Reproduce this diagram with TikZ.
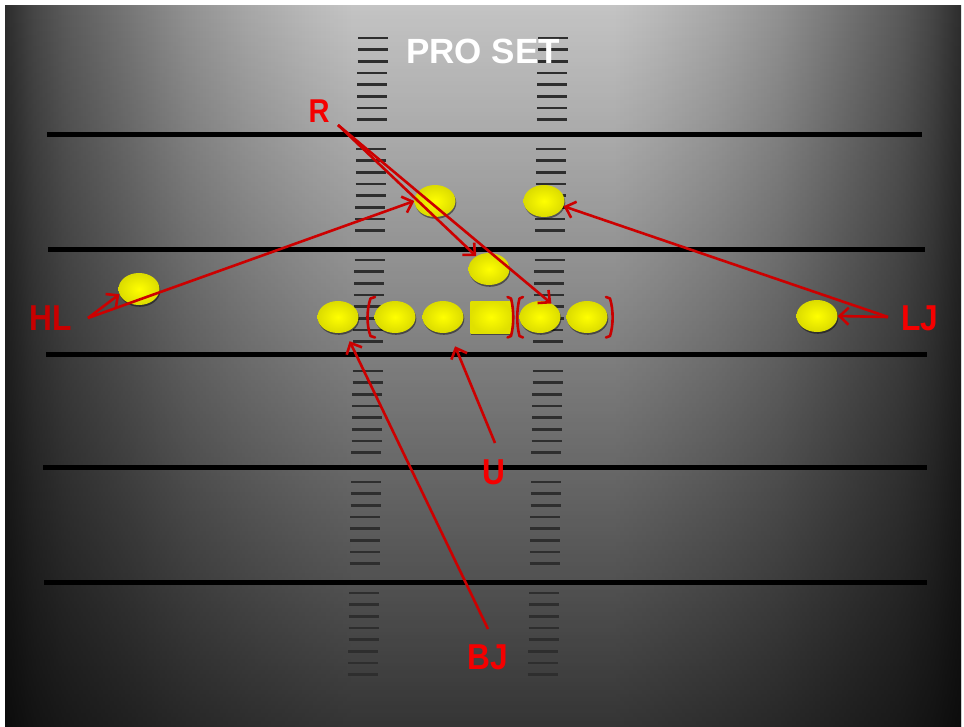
\documentclass[tikz,border=0pt]{standalone}
\usepackage{fontspec}
\setmainfont{Liberation Sans}
\newfontfamily\lblfont[FakeStretch=0.88]{Liberation Sans}
\usetikzlibrary{arrows.meta,shapes.geometric,shadows}

\definecolor{gE}{RGB}{45,45,45}
\definecolor{gF}{RGB}{70,70,70}
\definecolor{gG}{RGB}{90,90,90}
\definecolor{gH}{RGB}{118,118,118}
\definecolor{gI}{RGB}{146,146,146}
\definecolor{gJ}{RGB}{168,168,168}
\definecolor{gK}{RGB}{186,186,186}
\definecolor{gL}{RGB}{196,196,196}
\definecolor{vbottom}{RGB}{69,69,69}
\definecolor{arrowred}{HTML}{CC0000}
\definecolor{labelred}{HTML}{F50000}
\definecolor{hlred}{HTML}{C80000}
\definecolor{hashgray}{HTML}{2E2E2E}
\definecolor{pyellow}{HTML}{FFFF00}

% the path's width corresponds to 25bp..75bp of the shading
\pgfdeclarehorizontalshading{fieldh}{100bp}{%
color(0bp)=(gE); color(25bp)=(gE); color(26.46bp)=(gF); color(28.09bp)=(gG);
color(31.33bp)=(gH); color(34.52bp)=(gI); color(37.76bp)=(gJ); color(40.95bp)=(gK);
color(43.2bp)=(gL); color(56.8bp)=(gL); color(59.05bp)=(gK); color(62.24bp)=(gJ);
color(65.48bp)=(gI); color(68.67bp)=(gH); color(71.91bp)=(gG); color(73.54bp)=(gF);
color(75bp)=(gE); color(100bp)=(gE)}

\begin{document}
\begin{tikzpicture}[x=1pt,y=-1pt,
  yardline/.style={line width=5pt, black},
  hashmark/.style={line width=2.6pt, hashgray},
  player/.style={ellipse, minimum width=41pt, minimum height=32pt, inner sep=0pt,
    inner color=pyellow, outer color=pyellow!86!black,
    drop shadow={shadow xshift=0.8pt, shadow yshift=-1.8pt, opacity=0.45, fill=black}},
  ctrbox/.style={rectangle, minimum width=41pt, minimum height=32pt, inner sep=0pt,
    inner color=pyellow, outer color=pyellow!88!black,
    drop shadow={shadow xshift=0.8pt, shadow yshift=-1.8pt, opacity=0.45, fill=black}},
  brk/.style={line width=2.6pt, hlred, line cap=round, line join=round},
  arr/.style={line width=2.6pt, arrowred, -{Straight Barb[length=9pt,width=17pt]}},
  lbl/.style={inner sep=0pt, text=labelred, font=\lblfont\fontsize{36}{40}\selectfont\bfseries},
  titletext/.style={inner sep=0pt, text=white, font=\fontsize{35}{40}\selectfont\bfseries}
]
\useasboundingbox (0,0) rectangle (964,726);
\fill[white] (0,0) rectangle (964,726);
\shade[shading=fieldh] (5,5) rectangle (961,726);
\begin{scope}[blend mode=multiply]
  \shade[top color=white, bottom color=vbottom] (5,5) rectangle (961,726);
\end{scope}

% yard lines
\foreach \yy/\xa/\xb in {134/47/922, 249/48/925, 354/46/927, 467/43/927, 582/44/927}
  \draw[yardline] (\xa,\yy) -- (\xb,\yy);

% hash marks
\foreach \s in {0,...,5}{
  \foreach \k in {0,...,7}{
    \pgfmathsetmacro\hy{38+111*\s+11.65*\k}
    \pgfmathsetmacro\hxl{358-10*(\hy-38)/636}
    \pgfmathsetmacro\hxr{538-10*(\hy-38)/636}
    \draw[hashmark] (\hxl,\hy) -- ++(30,0);
    \draw[hashmark] (\hxr,\hy) -- ++(30,0);
  }
}

% title
\node[titletext] (ps) at (483,51) {PRO SET};

% players
\node[player] (p1) at (435,201) {};
\node[player] (p2) at (544,201) {};
\node[player] (mid) at (489,269) {};
\node[player] (l1) at (338,317) {};
\node[player] (l2) at (395,317) {};
\node[player] (l3) at (443,317) {};
\node[ctrbox] (c) at (491,317) {};
\node[player] (l4) at (540,317) {};
\node[player] (l5) at (587,317) {};
\node[player] (hlp) at (139,289) {};
\node[player] (ljp) at (817,316) {};

% brackets
\draw[brk] (375,297) -- (370.5,298.5) .. controls (366.5,310) and (366.5,325) .. (370.5,336) -- (375,337.5);
\draw[brk] (507.5,297) -- (511,298.5) .. controls (514,310) and (514,325) .. (511,336) -- (507.5,337.5);
\draw[brk] (523,297) -- (519.5,298.5) .. controls (516.5,310) and (516.5,325) .. (519.5,336) -- (523,337.5);
\draw[brk] (606,297) -- (610,298.5) .. controls (613.5,310) and (613.5,325) .. (610,336) -- (606,337.5);

% labels
\node[lbl, font=\lblfont\fontsize{33}{36}\selectfont\bfseries] (R) at (319,111) {R};
\node[lbl, text=hlred] (HL) at (51,318) {HL};
\node[lbl] (LJ) at (920,318) {LJ};
\node[lbl] (U) at (494,472) {U};
\node[lbl] (BJ) at (488,657) {BJ};

% arrow start points
\coordinate (Rs) at (338,125);
\coordinate (HLs) at (88,318);
\coordinate (LJs) at (888,317);
\coordinate (Us) at (495,443);
\coordinate (BJs) at (488,629);

% arrows
\draw[arr] (Rs) -- (mid.135);
\draw[arr] (Rs) -- (l4.50);
\draw[arr] (HLs) -- (p1.west);
\draw[arr] (HLs) -- (hlp.195);
\draw[arr] (LJs) -- (p2.-15);
\draw[arr] (LJs) -- (ljp.east);
\draw[arr, shorten >=15pt] (Us) -- (l3);
\draw[arr, shorten >=10pt] (BJs) -- (l1);
\end{tikzpicture}
\end{document}
